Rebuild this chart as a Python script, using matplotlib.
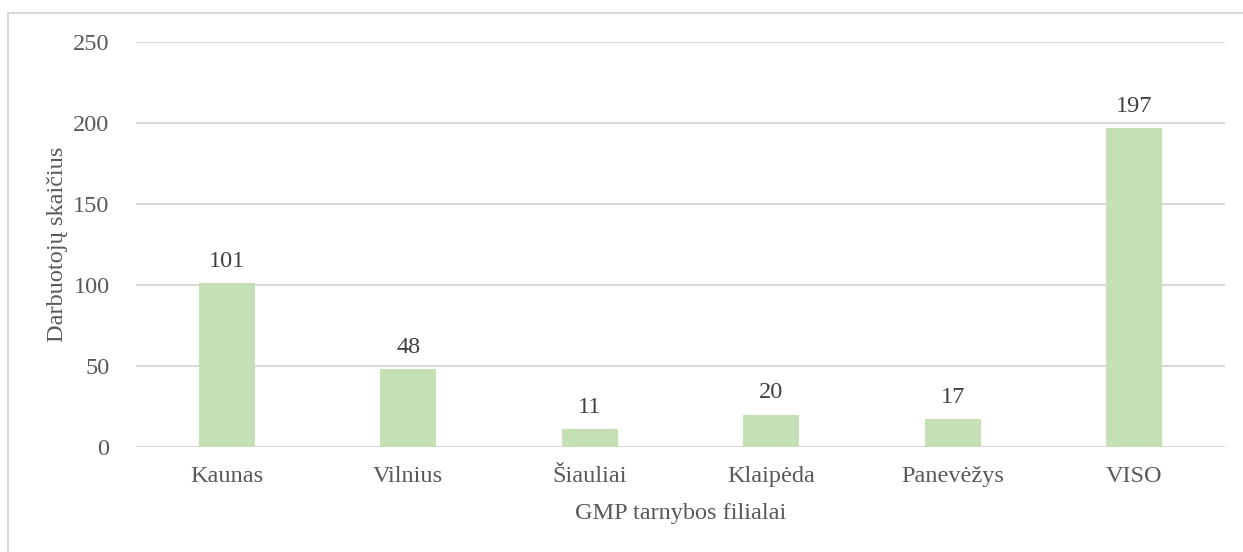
import matplotlib
matplotlib.use("Agg")
import matplotlib.pyplot as plt
from matplotlib.lines import Line2D

categories = ["Kaunas", "Vilnius", "Šiauliai", "Klaipėda", "Panevėžys", "VISO"]
values = [101, 48, 11, 20, 17, 197]
yticks = [0, 50, 100, 150, 200, 250]

plt.rcParams['font.family'] = ['Liberation Serif', 'DejaVu Serif']

W, H = 1243, 552
fig = plt.figure(figsize=(W / 100, H / 100), dpi=100)
ax = fig.add_axes([136 / W, 1 - 447 / H, (1225 - 136) / W, (447 - 42) / H])

x = list(range(len(categories)))
bars = ax.bar(x, values, width=0.31, color="#C5E0B4", zorder=3)
ax.set_xlim(-0.5, len(categories) - 0.5)
ax.set_ylim(0, 250)
ax.set_yticks(yticks)
ax.set_xticks(x)
ax.set_xticklabels(categories)
ax.grid(axis="y", color="#D9D9D9", linewidth=1.5, zorder=0)
for s in ax.spines.values():
    s.set_visible(False)
ax.tick_params(axis="both", length=0, labelsize=17.5, colors="#595959")
ax.tick_params(axis="y", pad=19)
ax.tick_params(axis="x", pad=14)

for xi, v in zip(x, values):
    ax.annotate(str(v), (xi, v), xytext=(0, 8), textcoords="offset points",
                ha="center", va="bottom", fontsize=17.5, color="#404040")

ax.set_xlabel("GMP tarnybos filialai", fontsize=17.5, color="#595959", labelpad=11)
ax.set_ylabel("Darbuotojų skaičius", fontsize=17.5, color="#595959", labelpad=4)

# outer border (left and top visible)
fig.add_artist(Line2D([7.5 / W, 7.5 / W], [0, 1 - 12.5 / H], transform=fig.transFigure,
                      color="#D9D9D9", linewidth=1.5))
fig.add_artist(Line2D([7.5 / W, 1], [1 - 12.5 / H, 1 - 12.5 / H], transform=fig.transFigure,
                      color="#D9D9D9", linewidth=1.5))

fig.savefig("out.png", dpi=100)
